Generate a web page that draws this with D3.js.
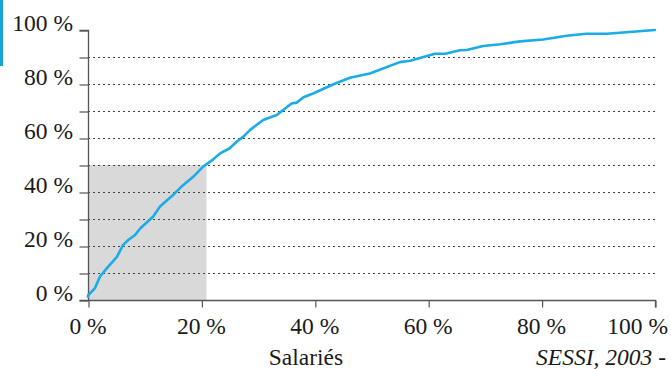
<!DOCTYPE html>
<html><head><meta charset="utf-8">
<script src="https://cdn.jsdelivr.net/npm/d3@7"></script>
<style>
html,body{margin:0;padding:0;background:#fff;}
svg{display:block;}
</style></head>
<body>
<svg id="chart" width="671" height="369"></svg>
<script>
// Cumulative share (%) of salaried employees (x) vs cumulative share (%) (y)
const xPct = [0, 0.05, 1.2, 2.1, 3.3, 5.1, 6.2, 7.1, 8.3, 9.2, 11.5, 12.7, 15, 16.5, 18.6, 20.3, 22.1, 23.3, 25, 26.2, 27.4, 28.6, 30.9, 33.3, 35.9, 36.8, 38, 39.7, 43.3, 46.2, 49.7, 55, 56.8, 61.2, 63, 65.6, 66.8, 69.7, 72.7, 76.2, 80.3, 84.4, 87.9, 91.5, 100];
const yPct = [1.2, 1.85, 4.3, 8.6, 11.7, 16, 20.4, 22.2, 24.1, 26.5, 30.9, 34.6, 38.9, 42, 45.7, 49.4, 52.1, 54.3, 56.2, 58.6, 60.5, 63, 66.7, 68.5, 72.8, 73.1, 75.1, 76.5, 79.9, 82.3, 83.9, 88.1, 88.6, 91.2, 91.2, 92.5, 92.6, 94.1, 94.7, 95.8, 96.5, 97.9, 98.6, 98.6, 100];
const xTicks = [0, 20, 40, 60, 80, 100];
const yTicksMinor = [0, 10, 20, 30, 40, 50, 60, 70, 80, 90, 100];
const yTickLabels = [0, 20, 40, 60, 80, 100];
const gridValues = [10, 20, 30, 40, 50, 60, 70, 80, 90];
const shade = {x: 20.9, y: 50};
const xTitle = "Salariés";
const sourceText = "SESSI, 2003 -";

const FONT = "'Liberation Serif', 'Times New Roman', serif";
const FS = "23.5px";
const svg = d3.select("#chart");
const x = d3.scaleLinear().domain([0, 100]).range([88, 655]);
const y = d3.scaleLinear().domain([0, 100]).range([300, 30]);
const axisColor = "#555";

// left decorative bar
svg.append("rect").attr("x", 0).attr("y", 0).attr("width", 3).attr("height", 66).attr("fill", "#1aa3d9");

// shaded area
svg.append("rect")
  .attr("x", x(0)).attr("y", y(shade.y))
  .attr("width", x(shade.x) - x(0)).attr("height", y(0) - y(shade.y))
  .attr("fill", "#d9d9d9");

// gridlines
svg.append("g").selectAll("line").data(gridValues).join("line")
  .attr("x1", x(0)).attr("x2", x(100))
  .attr("y1", d => y(d) + 0.5).attr("y2", d => y(d) + 0.5)
  .attr("stroke", "#444").attr("stroke-width", 1)
  .attr("stroke-dasharray", "2,3");

// y axis
const yAxis = d3.axisLeft(y).tickValues(yTicksMinor).tickSize(9).tickFormat("");
const gy = svg.append("g").attr("transform", `translate(${x(0)+0.5},0.5)`).call(yAxis);
gy.select(".domain").attr("stroke", axisColor).attr("stroke-width", 1.3).attr("d", `M-9,${y(100)}H0V${y(0)}`);
gy.selectAll(".tick line").attr("stroke", axisColor).attr("stroke-width", 1.2);

svg.append("g").selectAll("text").data(yTickLabels).join("text")
  .attr("x", 73).attr("y", d => y(d) + 1)
  .attr("text-anchor", "end")
  .style("font-family", FONT).attr("fill", "#1a1a1a")
  .style("font-size", FS)
  .text(d => d + " %");

// x axis
const xAxis = d3.axisBottom(x).tickValues(xTicks).tickSize(7).tickFormat("");
const gx = svg.append("g").attr("transform", `translate(0.5,${y(0)+0.5})`).call(xAxis);
gx.select(".domain").attr("stroke", axisColor).attr("stroke-width", 1.3).attr("d", `M${x(0)-9},0H${x(100)}V7`);
gx.selectAll(".tick line").attr("stroke", axisColor).attr("stroke-width", 1.2);

svg.append("g").selectAll("text").data(xTicks).join("text")
  .attr("x", d => d === 100 ? 668 : x(d))
  .attr("y", 334)
  .attr("text-anchor", d => d === 100 ? "end" : "middle")
  .style("font-family", FONT).attr("fill", "#1a1a1a")
  .style("font-size", FS)
  .text(d => d + " %");

// curve
const pts = xPct.map((v, i) => [v, yPct[i]]);
svg.append("path").datum(pts)
  .attr("d", d3.line().x(d => x(d[0])).y(d => y(d[1])))
  .attr("fill", "none").attr("stroke", "#19ace6").attr("stroke-width", 2.6)
  .attr("stroke-linejoin", "round").attr("stroke-linecap", "round");

// titles
svg.append("text").attr("x", 306).attr("y", 365).attr("text-anchor", "middle")
  .style("font-family", FONT).attr("fill", "#1a1a1a")
  .style("font-size", FS).text(xTitle);
svg.append("text").attr("x", 666).attr("y", 365).attr("text-anchor", "end")
  .style("font-family", FONT).attr("fill", "#1a1a1a")
  .style("font-size", FS).style("font-style", "italic").text(sourceText);
</script>
</body></html>
